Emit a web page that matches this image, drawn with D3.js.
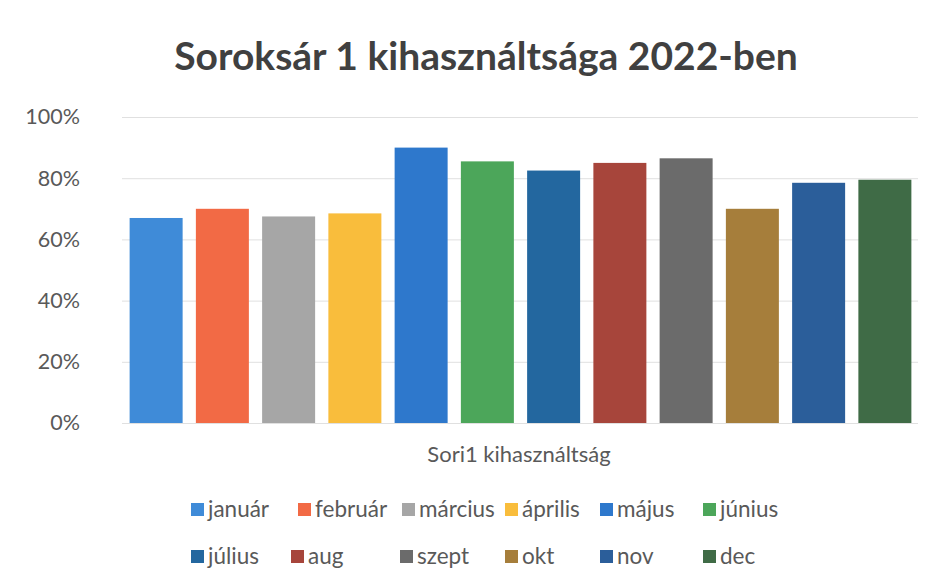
<!DOCTYPE html>
<html><head><meta charset="utf-8">
<script src="https://cdn.jsdelivr.net/npm/d3@7"></script>
<style>body{margin:0;background:#fff}svg{display:block}text{font-family:Lato,"Open Sans",sans-serif}</style>
</head><body><svg id="c" width="952" height="580"></svg>
<script>
const categories = ["január","február","március","április","május","június","július","aug","szept","okt","nov","dec"];
const values = [67, 70, 67.5, 68.5, 90, 85.5, 82.5, 85, 86.5, 70, 78.5, 79.5];
const colors = ["#3f8bd8","#f26a45","#a6a6a6","#f9bd3c","#2e78cc","#4ca65a","#23679f","#a7453b","#6b6b6b","#a67e3b","#2b5e9a","#3f6b46"];
const yTicks = [0,20,40,60,80,100];
const title = "Soroksár 1 kihasználtsága 2022-ben";
const xLabel = "Sori1 kihasználtság";

const svg = d3.select("#c");
const x = d3.scaleBand().domain(categories).range([123, 918]).paddingInner(0.2).paddingOuter(0.1);
const y = d3.scaleLinear().domain([0,100]).range([423, 117]);

svg.append("text").attr("x", 486).attr("y", 70).attr("text-anchor","middle")
  .attr("font-size", 39).attr("font-weight","bold").attr("fill","#404040").text(title);

const yAxis = svg.append("g").attr("transform","translate(122,0)")
  .call(d3.axisLeft(y).tickValues(yTicks).tickSize(-796).tickFormat(d => d + "%"));
yAxis.select(".domain").remove();
yAxis.selectAll(".tick line").attr("stroke","#e0e0e0").attr("stroke-width",1);
yAxis.selectAll(".tick text").attr("x",-42).attr("font-size",21.5).attr("fill","#595959").attr("font-family","Lato,sans-serif");

svg.append("g").selectAll("rect").data(values).join("rect")
  .attr("x",(d,i)=>x(categories[i])).attr("width",x.bandwidth())
  .attr("y",d=>y(d)).attr("height",d=>y(0)-y(d))
  .attr("fill",(d,i)=>colors[i]);

svg.append("text").attr("x",519).attr("y",462).attr("text-anchor","middle")
  .attr("font-size",22).attr("fill","#595959").text(xLabel);

const colX = [[191, 298, 402, 505, 600, 703],[191, 291, 400, 505, 600, 703]];
const rowY = [510, 557];
const leg = svg.append("g").selectAll("g").data(categories).join("g")
  .attr("transform",(d,i)=>`translate(${colX[Math.floor(i/6)][i%6]},${rowY[Math.floor(i/6)]})`);
leg.append("rect").attr("x",0).attr("y",-7).attr("width",13).attr("height",13).attr("fill",(d,i)=>colors[i]);
leg.append("text").attr("x",17).attr("y",7).attr("font-size",22.5).attr("fill","#595959").text(d=>d);
</script></body></html>
